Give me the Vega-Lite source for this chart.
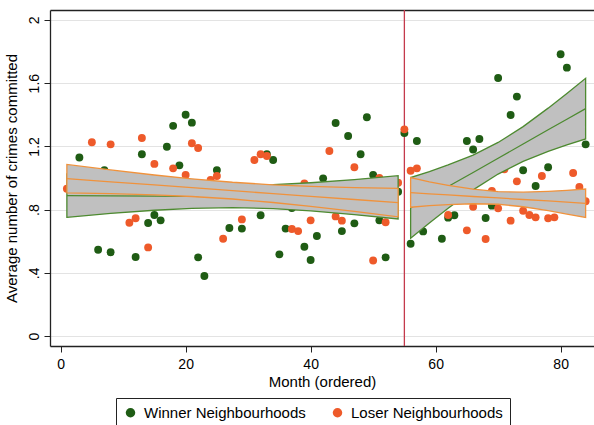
{
  "$schema": "https://vega.github.io/schema/vega-lite/v6.json",
  "width": 544,
  "height": 336,
  "autosize": {"type": "none"},
  "padding": {"left": 50, "top": 10, "right": 0, "bottom": 79},
  "background": "white",
  "config": {
    "font": "Liberation Sans",
    "view": {"stroke": null},
    "axis": {
      "domainColor": "#222222",
      "domainWidth": 1.3,
      "tickColor": "#222222",
      "tickSize": 6,
      "labelFont": "Liberation Sans",
      "titleFont": "Liberation Sans",
      "labelColor": "#000000",
      "titleColor": "#000000",
      "labelFontSize": 14,
      "titleFontSize": 15,
      "titleFontWeight": "normal"
    }
  },
  "resolve": {"axis": {"x": "independent"}},
  "datasets": {
    "pts": [
      {"month": 3, "value": 1.13, "group": "Winner Neighbourhoods"},
      {"month": 6, "value": 0.546, "group": "Winner Neighbourhoods"},
      {"month": 7, "value": 1.05, "group": "Winner Neighbourhoods"},
      {"month": 8, "value": 0.53, "group": "Winner Neighbourhoods"},
      {"month": 12, "value": 0.5, "group": "Winner Neighbourhoods"},
      {"month": 13, "value": 1.15, "group": "Winner Neighbourhoods"},
      {"month": 14, "value": 0.715, "group": "Winner Neighbourhoods"},
      {"month": 15, "value": 0.766, "group": "Winner Neighbourhoods"},
      {"month": 16, "value": 0.732, "group": "Winner Neighbourhoods"},
      {"month": 17, "value": 1.198, "group": "Winner Neighbourhoods"},
      {"month": 18, "value": 1.33, "group": "Winner Neighbourhoods"},
      {"month": 19, "value": 1.08, "group": "Winner Neighbourhoods"},
      {"month": 20, "value": 1.4, "group": "Winner Neighbourhoods"},
      {"month": 21, "value": 1.35, "group": "Winner Neighbourhoods"},
      {"month": 22, "value": 0.498, "group": "Winner Neighbourhoods"},
      {"month": 23, "value": 0.38, "group": "Winner Neighbourhoods"},
      {"month": 25, "value": 1.05, "group": "Winner Neighbourhoods"},
      {"month": 27, "value": 0.684, "group": "Winner Neighbourhoods"},
      {"month": 29, "value": 0.68, "group": "Winner Neighbourhoods"},
      {"month": 32, "value": 0.764, "group": "Winner Neighbourhoods"},
      {"month": 33, "value": 1.15, "group": "Winner Neighbourhoods"},
      {"month": 34, "value": 1.114, "group": "Winner Neighbourhoods"},
      {"month": 35, "value": 0.517, "group": "Winner Neighbourhoods"},
      {"month": 36, "value": 0.68, "group": "Winner Neighbourhoods"},
      {"month": 37, "value": 0.81, "group": "Winner Neighbourhoods"},
      {"month": 39, "value": 0.565, "group": "Winner Neighbourhoods"},
      {"month": 40, "value": 0.481, "group": "Winner Neighbourhoods"},
      {"month": 41, "value": 0.633, "group": "Winner Neighbourhoods"},
      {"month": 42, "value": 0.998, "group": "Winner Neighbourhoods"},
      {"month": 44, "value": 1.348, "group": "Winner Neighbourhoods"},
      {"month": 45, "value": 0.664, "group": "Winner Neighbourhoods"},
      {"month": 46, "value": 1.266, "group": "Winner Neighbourhoods"},
      {"month": 47, "value": 0.713, "group": "Winner Neighbourhoods"},
      {"month": 48, "value": 1.15, "group": "Winner Neighbourhoods"},
      {"month": 49, "value": 1.384, "group": "Winner Neighbourhoods"},
      {"month": 50, "value": 1.02, "group": "Winner Neighbourhoods"},
      {"month": 51, "value": 0.732, "group": "Winner Neighbourhoods"},
      {"month": 52, "value": 0.498, "group": "Winner Neighbourhoods"},
      {"month": 54, "value": 0.913, "group": "Winner Neighbourhoods"},
      {"month": 55, "value": 1.285, "group": "Winner Neighbourhoods"},
      {"month": 56, "value": 0.584, "group": "Winner Neighbourhoods"},
      {"month": 57, "value": 1.234, "group": "Winner Neighbourhoods"},
      {"month": 58, "value": 0.662, "group": "Winner Neighbourhoods"},
      {"month": 61, "value": 0.616, "group": "Winner Neighbourhoods"},
      {"month": 62, "value": 0.749, "group": "Winner Neighbourhoods"},
      {"month": 63, "value": 0.764, "group": "Winner Neighbourhoods"},
      {"month": 65, "value": 1.234, "group": "Winner Neighbourhoods"},
      {"month": 66, "value": 1.18, "group": "Winner Neighbourhoods"},
      {"month": 67, "value": 1.247, "group": "Winner Neighbourhoods"},
      {"month": 68, "value": 0.747, "group": "Winner Neighbourhoods"},
      {"month": 69, "value": 0.825, "group": "Winner Neighbourhoods"},
      {"month": 70, "value": 1.633, "group": "Winner Neighbourhoods"},
      {"month": 72, "value": 1.399, "group": "Winner Neighbourhoods"},
      {"month": 73, "value": 1.515, "group": "Winner Neighbourhoods"},
      {"month": 74, "value": 1.049, "group": "Winner Neighbourhoods"},
      {"month": 76, "value": 0.949, "group": "Winner Neighbourhoods"},
      {"month": 78, "value": 1.068, "group": "Winner Neighbourhoods"},
      {"month": 80, "value": 1.783, "group": "Winner Neighbourhoods"},
      {"month": 81, "value": 1.698, "group": "Winner Neighbourhoods"},
      {"month": 84, "value": 1.213, "group": "Winner Neighbourhoods"},
      {"month": 1, "value": 0.932, "group": "Loser Neighbourhoods"},
      {"month": 5, "value": 1.226, "group": "Loser Neighbourhoods"},
      {"month": 8, "value": 1.213, "group": "Loser Neighbourhoods"},
      {"month": 11, "value": 0.717, "group": "Loser Neighbourhoods"},
      {"month": 12, "value": 0.745, "group": "Loser Neighbourhoods"},
      {"month": 13, "value": 1.253, "group": "Loser Neighbourhoods"},
      {"month": 14, "value": 0.561, "group": "Loser Neighbourhoods"},
      {"month": 15, "value": 1.089, "group": "Loser Neighbourhoods"},
      {"month": 18, "value": 1.061, "group": "Loser Neighbourhoods"},
      {"month": 20, "value": 1.019, "group": "Loser Neighbourhoods"},
      {"month": 21, "value": 1.22, "group": "Loser Neighbourhoods"},
      {"month": 22, "value": 1.19, "group": "Loser Neighbourhoods"},
      {"month": 24, "value": 0.987, "group": "Loser Neighbourhoods"},
      {"month": 25, "value": 1.013, "group": "Loser Neighbourhoods"},
      {"month": 26, "value": 0.616, "group": "Loser Neighbourhoods"},
      {"month": 29, "value": 0.738, "group": "Loser Neighbourhoods"},
      {"month": 31, "value": 1.114, "group": "Loser Neighbourhoods"},
      {"month": 32, "value": 1.15, "group": "Loser Neighbourhoods"},
      {"month": 33, "value": 1.139, "group": "Loser Neighbourhoods"},
      {"month": 37, "value": 0.677, "group": "Loser Neighbourhoods"},
      {"month": 38, "value": 0.664, "group": "Loser Neighbourhoods"},
      {"month": 39, "value": 0.966, "group": "Loser Neighbourhoods"},
      {"month": 40, "value": 0.732, "group": "Loser Neighbourhoods"},
      {"month": 43, "value": 1.171, "group": "Loser Neighbourhoods"},
      {"month": 44, "value": 0.757, "group": "Loser Neighbourhoods"},
      {"month": 45, "value": 0.73, "group": "Loser Neighbourhoods"},
      {"month": 47, "value": 1.068, "group": "Loser Neighbourhoods"},
      {"month": 50, "value": 0.478, "group": "Loser Neighbourhoods"},
      {"month": 51, "value": 1.0, "group": "Loser Neighbourhoods"},
      {"month": 52, "value": 0.72, "group": "Loser Neighbourhoods"},
      {"month": 54, "value": 0.97, "group": "Loser Neighbourhoods"},
      {"month": 55, "value": 1.308, "group": "Loser Neighbourhoods"},
      {"month": 56, "value": 1.046, "group": "Loser Neighbourhoods"},
      {"month": 57, "value": 1.061, "group": "Loser Neighbourhoods"},
      {"month": 62, "value": 0.766, "group": "Loser Neighbourhoods"},
      {"month": 65, "value": 0.669, "group": "Loser Neighbourhoods"},
      {"month": 66, "value": 0.818, "group": "Loser Neighbourhoods"},
      {"month": 68, "value": 0.614, "group": "Loser Neighbourhoods"},
      {"month": 69, "value": 0.918, "group": "Loser Neighbourhoods"},
      {"month": 70, "value": 0.808, "group": "Loser Neighbourhoods"},
      {"month": 71, "value": 1.055, "group": "Loser Neighbourhoods"},
      {"month": 72, "value": 0.73, "group": "Loser Neighbourhoods"},
      {"month": 73, "value": 0.979, "group": "Loser Neighbourhoods"},
      {"month": 74, "value": 0.793, "group": "Loser Neighbourhoods"},
      {"month": 75, "value": 0.766, "group": "Loser Neighbourhoods"},
      {"month": 76, "value": 0.751, "group": "Loser Neighbourhoods"},
      {"month": 77, "value": 1.013, "group": "Loser Neighbourhoods"},
      {"month": 78, "value": 0.745, "group": "Loser Neighbourhoods"},
      {"month": 79, "value": 0.751, "group": "Loser Neighbourhoods"},
      {"month": 82, "value": 1.032, "group": "Loser Neighbourhoods"},
      {"month": 83, "value": 0.943, "group": "Loser Neighbourhoods"},
      {"month": 84, "value": 0.853, "group": "Loser Neighbourhoods"}
    ],
    "fit": [
      {"group": "Winner", "period": "pre", "month": 1, "fit": 0.888, "lo": 0.751, "hi": 1.025},
      {"group": "Winner", "period": "pre", "month": 8, "fit": 0.887, "lo": 0.776, "hi": 0.998},
      {"group": "Winner", "period": "pre", "month": 15, "fit": 0.885, "lo": 0.796, "hi": 0.974},
      {"group": "Winner", "period": "pre", "month": 21, "fit": 0.884, "lo": 0.808, "hi": 0.96},
      {"group": "Winner", "period": "pre", "month": 27.5, "fit": 0.883, "lo": 0.813, "hi": 0.953},
      {"group": "Winner", "period": "pre", "month": 34, "fit": 0.882, "lo": 0.806, "hi": 0.958},
      {"group": "Winner", "period": "pre", "month": 40, "fit": 0.881, "lo": 0.792, "hi": 0.97},
      {"group": "Winner", "period": "pre", "month": 47, "fit": 0.879, "lo": 0.768, "hi": 0.99},
      {"group": "Winner", "period": "pre", "month": 54, "fit": 0.878, "lo": 0.741, "hi": 1.015},
      {"group": "Winner", "period": "post", "month": 56, "fit": 0.811, "lo": 0.619, "hi": 1.003},
      {"group": "Winner", "period": "post", "month": 59, "fit": 0.878, "lo": 0.715, "hi": 1.041},
      {"group": "Winner", "period": "post", "month": 62, "fit": 0.946, "lo": 0.809, "hi": 1.083},
      {"group": "Winner", "period": "post", "month": 66, "fit": 1.035, "lo": 0.925, "hi": 1.145},
      {"group": "Winner", "period": "post", "month": 70, "fit": 1.125, "lo": 1.025, "hi": 1.225},
      {"group": "Winner", "period": "post", "month": 74, "fit": 1.215, "lo": 1.105, "hi": 1.325},
      {"group": "Winner", "period": "post", "month": 78, "fit": 1.305, "lo": 1.168, "hi": 1.442},
      {"group": "Winner", "period": "post", "month": 81, "fit": 1.372, "lo": 1.209, "hi": 1.535},
      {"group": "Winner", "period": "post", "month": 84, "fit": 1.439, "lo": 1.247, "hi": 1.631},
      {"group": "Loser", "period": "pre", "month": 1, "fit": 0.996, "lo": 0.906, "hi": 1.086},
      {"group": "Loser", "period": "pre", "month": 8, "fit": 0.976, "lo": 0.901, "hi": 1.051},
      {"group": "Loser", "period": "pre", "month": 15, "fit": 0.956, "lo": 0.893, "hi": 1.019},
      {"group": "Loser", "period": "pre", "month": 21, "fit": 0.939, "lo": 0.883, "hi": 0.995},
      {"group": "Loser", "period": "pre", "month": 27.5, "fit": 0.92, "lo": 0.867, "hi": 0.973},
      {"group": "Loser", "period": "pre", "month": 34, "fit": 0.901, "lo": 0.845, "hi": 0.957},
      {"group": "Loser", "period": "pre", "month": 40, "fit": 0.884, "lo": 0.821, "hi": 0.947},
      {"group": "Loser", "period": "pre", "month": 47, "fit": 0.864, "lo": 0.789, "hi": 0.939},
      {"group": "Loser", "period": "pre", "month": 54, "fit": 0.844, "lo": 0.754, "hi": 0.934},
      {"group": "Loser", "period": "post", "month": 56, "fit": 0.907, "lo": 0.815, "hi": 1.002},
      {"group": "Loser", "period": "post", "month": 59, "fit": 0.9, "lo": 0.825, "hi": 0.975},
      {"group": "Loser", "period": "post", "month": 62, "fit": 0.893, "lo": 0.832, "hi": 0.954},
      {"group": "Loser", "period": "post", "month": 66, "fit": 0.883, "lo": 0.837, "hi": 0.929},
      {"group": "Loser", "period": "post", "month": 70, "fit": 0.874, "lo": 0.834, "hi": 0.914},
      {"group": "Loser", "period": "post", "month": 74, "fit": 0.864, "lo": 0.818, "hi": 0.91},
      {"group": "Loser", "period": "post", "month": 78, "fit": 0.855, "lo": 0.794, "hi": 0.916},
      {"group": "Loser", "period": "post", "month": 81, "fit": 0.847, "lo": 0.772, "hi": 0.922},
      {"group": "Loser", "period": "post", "month": 84, "fit": 0.84, "lo": 0.75, "hi": 0.93}
    ],
    "cut": [{"month": 55}]
  },
  "layer": [
    {
      "data": {"name": "cut"},
      "mark": {"type": "rule", "color": "#c43a4c", "strokeWidth": 1.3},
      "encoding": {
        "x": {
          "field": "month", "type": "quantitative",
          "scale": {"domain": [-1.7, 85.34], "nice": false, "zero": false},
          "axis": {"orient": "top", "labels": false, "ticks": false, "grid": false, "title": null, "domain": true}
        }
      }
    },
    {
      "data": {"name": "pts"},
      "mark": {"type": "circle", "size": 62, "opacity": 1},
      "encoding": {
        "x": {
          "field": "month", "type": "quantitative",
          "scale": {"domain": [-1.7, 85.34], "nice": false, "zero": false},
          "axis": {"values": [0, 20, 40, 60, 80], "grid": false, "title": "Month (ordered)", "labelPadding": 5, "titlePadding": 3}
        },
        "y": {
          "field": "value", "type": "quantitative",
          "scale": {"domain": [-0.063, 2.063], "nice": false, "zero": false},
          "axis": {
            "values": [0, 0.4, 0.8, 1.2, 1.6, 2],
            "labelExpr": "datum.value == 0 ? '0' : datum.value == 2 ? '2' : datum.value < 1 ? substring(format(datum.value, '.1f'), 1) : format(datum.value, '.1f')",
            "labelAngle": -90,
            "labelAlign": "center",
            "labelBaseline": "bottom",
            "labelPadding": 3,
            "grid": true,
            "gridColor": "#e3e3e3",
            "gridWidth": 1,
            "title": "Average number of crimes committed",
            "titlePadding": 8
          }
        },
        "color": {
          "field": "group", "type": "nominal",
          "scale": {"domain": ["Winner Neighbourhoods", "Loser Neighbourhoods"], "range": ["#1f5c14", "#ee5a2a"]},
          "legend": {
            "orient": "none",
            "legendX": 66,
            "legendY": 388,
            "direction": "horizontal",
            "columns": 2,
            "title": " ",
            "titleOrient": "bottom",
            "titleFontSize": 12,
            "titlePadding": 0,
            "strokeColor": "#222222",
            "fillColor": "white",
            "padding": 7,
            "symbolType": "circle",
            "symbolSize": 90,
            "symbolStrokeWidth": 0,
            "labelFontSize": 15,
            "labelFont": "Liberation Sans",
            "labelColor": "#000000",
            "labelOffset": 6,
            "labelExpr": "datum.label == 'Loser Neighbourhoods' ? datum.label + '\u00a0\u00a0\u00a0' : datum.label",
            "columnPadding": 24,
            "labelLimit": 300
          }
        }
      }
    },
    {
      "data": {"name": "fit"},
      "transform": [{"filter": "datum.group == 'Winner'"}],
      "mark": {"type": "area", "fill": "#c0c0c0", "stroke": "#4d8a30", "strokeWidth": 1.3, "opacity": 1},
      "encoding": {
        "x": {"field": "month", "type": "quantitative", "axis": null},
        "y": {"field": "lo", "type": "quantitative"},
        "y2": {"field": "hi"},
        "detail": {"field": "period"}
      }
    },
    {
      "data": {"name": "fit"},
      "transform": [{"filter": "datum.group == 'Winner'"}],
      "mark": {"type": "line", "color": "#4d8a30", "strokeWidth": 1.3},
      "encoding": {
        "x": {"field": "month", "type": "quantitative", "axis": null},
        "y": {"field": "fit", "type": "quantitative"},
        "detail": {"field": "period"}
      }
    },
    {
      "data": {"name": "fit"},
      "transform": [{"filter": "datum.group == 'Loser'"}],
      "mark": {"type": "area", "fill": "#c0c0c0", "stroke": "#f0923c", "strokeWidth": 1.3, "opacity": 1},
      "encoding": {
        "x": {"field": "month", "type": "quantitative", "axis": null},
        "y": {"field": "lo", "type": "quantitative"},
        "y2": {"field": "hi"},
        "detail": {"field": "period"}
      }
    },
    {
      "data": {"name": "fit"},
      "transform": [{"filter": "datum.group == 'Loser'"}],
      "mark": {"type": "line", "color": "#f0923c", "strokeWidth": 1.3},
      "encoding": {
        "x": {"field": "month", "type": "quantitative", "axis": null},
        "y": {"field": "fit", "type": "quantitative"},
        "detail": {"field": "period"}
      }
    }
  ]
}
